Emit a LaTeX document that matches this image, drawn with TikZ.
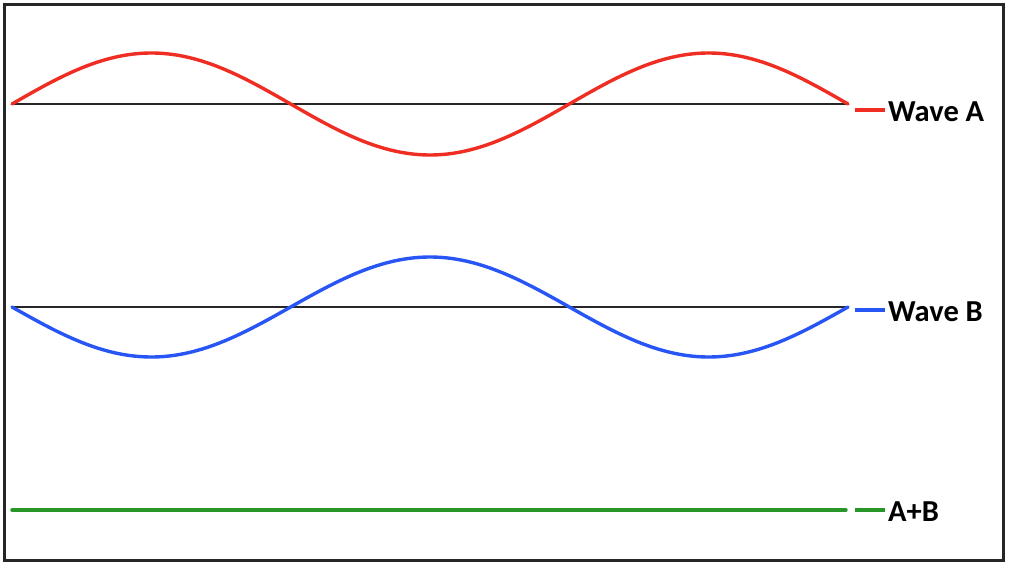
\documentclass[tikz,border=0pt]{standalone}
\usepackage{fontspec}
\setmainfont{Carlito}
\definecolor{wavered}{RGB}{240,45,35}
\definecolor{waveblue}{RGB}{40,85,245}
\definecolor{wavegreen}{RGB}{40,150,40}
\begin{document}
\begin{tikzpicture}[x=1pt,y=-1pt,
  axisline/.style={black!85,line width=2.2pt},
  wave/.style={line width=3.4pt,line cap=round},
  legline/.style={line width=3.2pt},
  leglabel/.style={anchor=west,inner sep=0pt,font=\fontsize{30.5}{30.5}\selectfont\bfseries}]
\useasboundingbox (0,0) rectangle (1009,567);
\fill[white] (0,0) rectangle (1009,567);
\draw[black!85,line width=3pt] (4,5) rectangle (1003,560);
% Wave A
\coordinate (a0) at (12,104);
\coordinate (a1) at (848,104);
\draw[axisline] (a0) -- (a1);
\draw[wave,wavered] plot[domain=12:848,samples=200,smooth] (\x,{104-51*sin((\x-12)/557.33*360)});
\coordinate (la0) at (855,110);
\coordinate (la1) at (885,110);
\draw[legline,wavered] (la0) -- (la1);
\node[leglabel] (labA) at (888,112) {Wave A};
% Wave B
\coordinate (b0) at (12,307);
\coordinate (b1) at (848,307);
\draw[axisline] (b0) -- (b1);
\draw[wave,waveblue] plot[domain=12:848,samples=200,smooth] (\x,{307+50*sin((\x-12)/557.33*360)});
\coordinate (lb0) at (855,310);
\coordinate (lb1) at (885,310);
\draw[legline,waveblue] (lb0) -- (lb1);
\node[leglabel] (labB) at (888,312) {Wave B};
% A+B
\coordinate (c0) at (12,510);
\coordinate (c1) at (846,510);
\draw[wave,wavegreen] (c0) -- (c1);
\coordinate (lc0) at (855,510);
\coordinate (lc1) at (885,510);
\draw[legline,wavegreen] (lc0) -- (lc1);
\node[leglabel] (labC) at (888,512) {A+B};
\end{tikzpicture}
\end{document}
